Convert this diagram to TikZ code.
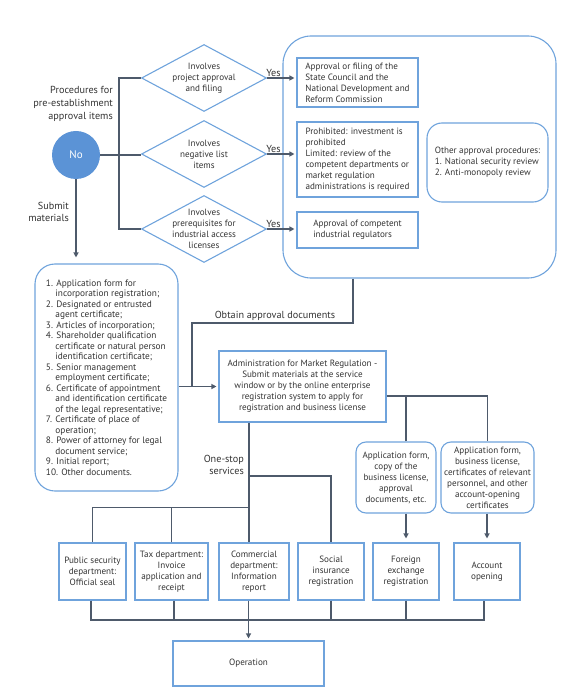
\documentclass[tikz,border=0pt]{standalone}
\usepackage{fontspec}
\setmainfont{PT Sans}
\usetikzlibrary{shapes.geometric,arrows.meta,positioning}

\definecolor{lineC}{HTML}{4E5A6B}
\definecolor{boxC}{HTML}{6FA3DC}
\definecolor{circC}{HTML}{5B93D6}
\definecolor{txtC}{HTML}{333333}
\newcommand{\fs}{\fontsize{9.1}{11}\selectfont}
\newcommand{\fl}{\fontsize{10.2}{12.6}\selectfont}
\newcommand{\ind}{\hphantom{1.\ }}

\begin{document}
\begin{tikzpicture}[x=1pt, y=-1pt,
        line/.style={draw=lineC, line width=1.2pt},
        arr/.style={line, -{Triangle[length=5pt,width=5pt]}, shorten >=2pt},
        box/.style={draw=boxC, line width=1.1pt, inner sep=1pt, align=center, font=\fs, text=txtC},
        rbox/.style={box, rounded corners=10pt},
        dia/.style={diamond, draw=boxC, line width=1.1pt, minimum width=125pt, minimum height=67pt, inner sep=0pt},
        lbl/.style={font=\fl, text=txtC, inner sep=1pt}
    ]
    \useasboundingbox (0,0) rectangle (586,700);

    % Gruppo approvazioni
    \node[box, rounded corners=28pt, minimum width=273pt, minimum height=242pt] (grp) at (419.5,157) {};
    \node[box, align=left, minimum width=121pt, minimum height=49pt] (b1) at (357.5,82.5)
        {Approval or filing of the\\State Council and the\\National Development and\\Reform Commission};
    \node[box, align=left, minimum width=121pt, minimum height=75pt] (b2) at (357.5,159.5)
        {Prohibited: investment is\\prohibited\\Limited: review of the\\competent departments or\\market regulation\\administrations is required};
    \node[box, align=left, minimum width=121pt, minimum height=36pt] (b3) at (357.5,230)
        {Approval of competent\\industrial regulators};
    \node[box, rounded corners=15pt, align=left, minimum width=121pt, minimum height=79pt] (oth) at (487.5,162.5)
        {Other approval procedures:\\1. National security review\\2. Anti-monopoly review};

    % Decisioni
    \node[circle, fill=circC, minimum size=48pt, inner sep=0pt, text=white, font=\fontsize{11}{13}\selectfont] (no) at (76,155) {No};
    \node[dia] (d1) at (204,78) {};
    \node[dia] (d2) at (204,154) {};
    \node[dia] (d3) at (204,229) {};
    \node[box, draw=none, align=center] (d1t) at (d1) {Involves\\project approval\\and filing};
    \node[box, draw=none, align=center] (d2t) at (d2) {Involves\\negative list\\items};
    \node[box, draw=none, align=center] (d3t) at (d3) {Involves\\prerequisites for\\industrial access\\licenses};
    \node[lbl, align=right, anchor=east] (pre) at (114,104) {Procedures for\\pre-establishment\\approval items};
    \node[lbl, align=right, anchor=east] (sub) at (70,212) {Submit\\materials};

    \coordinate (br) at (119,0);
    \draw[line] (no.east) -- (no.east -| d2.west);
    \draw[line] (d1.west) -- (d1.west -| br) -- (d3.west -| br) -- (d3.west);
    \draw[arr] (d1.east) -- node[lbl, above, pos=0.22] {Yes} (d1.east -| b1.west);
    \draw[arr] (d2.east) -- node[lbl, above, pos=0.22] {Yes} (d2.east -| b2.west);
    \draw[arr] (d3.east) -- node[lbl, above, pos=0.22] {Yes} (d3.east -| b3.west);

    % Materiali
    \node[box, rounded corners=20pt, align=left, font=\fontsize{9.3}{10.5}\selectfont, minimum width=143pt, minimum height=227pt] (mat) at (106.5,377.5)
        {1. Application form for\\\ind incorporation registration;\\
         2. Designated or entrusted\\\ind agent certificate;\\
         3. Articles of incorporation;\\
         4. Shareholder qualification\\\ind certificate or natural person\\\ind identification certificate;\\
         5. Senior management\\\ind employment certificate;\\
         6. Certificate of appointment\\\ind and identification certificate\\\ind of the legal representative;\\
         7. Certificate of place of\\\ind operation;\\
         8. Power of attorney for legal\\\ind document service;\\
         9. Initial report;\\
         10. Other documents.};
    \draw[arr, shorten >=6pt] (no.south) -- (no.south |- mat.north);

    % Registrazione
    \node[box, minimum width=167pt, minimum height=71pt] (adm) at (302.5,386.5)
        {Administration for Market Regulation -\\Submit materials at the service\\window or by the online enterprise\\registration system to apply for\\registration and business license};
    \coordinate (obt) at (192,323);
    \draw[arr] (adm.west -| mat.east) -- (adm.west);
    \draw[line] ([xshift=-66.5pt]grp.south) |- (obt) -- (obt |- adm.west);
    \node[lbl, above] (obtl) at (275,322) {Obtain approval documents};

    \node[rbox, minimum width=80pt, minimum height=71pt] (fd) at (396,477.5)
        {Application form,\\copy of the\\business license,\\approval\\documents, etc.};
    \node[rbox, minimum width=93pt, minimum height=71pt] (ad) at (487.5,477.5)
        {Application form,\\business license,\\certificates of relevant\\personnel, and other\\account-opening\\certificates};

    % Sportello unico
    \node[box, minimum width=67pt, minimum height=57pt] (pa) at (92.5,571.5) {Public security\\department:\\Official seal};
    \node[box, minimum width=73pt, minimum height=57pt] (pb) at (171.5,571.5) {Tax department:\\Invoice\\application and\\receipt};
    \node[box, minimum width=70pt, minimum height=57pt] (pc) at (254,571.5) {Commercial\\department:\\Information\\report};
    \node[box, minimum width=66pt, minimum height=57pt] (pd) at (331,571.5) {Social\\insurance\\registration};
    \node[box, minimum width=66pt, minimum height=57pt] (pe) at (406,571.5) {Foreign\\exchange\\registration};
    \node[box, minimum width=66pt, minimum height=57pt] (pf) at (487,571.5) {Account\\opening};
    \node[box, minimum width=151pt, minimum height=45pt] (ope) at (248.5,663.5) {Operation};
    \node[lbl, align=right, anchor=east] (one) at (245,465) {One-stop\\services};

    \coordinate (os) at ([xshift=-53.5pt]adm.south);
    \coordinate (tap1) at (249,476);
    \coordinate (tap2) at (249,507.5);
    \draw[line] (os) -- (os |- pc.north);
    \draw[line] (tap1) -| (pd.north);
    \draw[line] (tap2) -| (pa.north);
    \draw[line] (pb.north) -- (pb.north |- tap2);
    \draw[line] ([yshift=-9.5pt]adm.east) -| (ad.north);
    \draw[line] (fd.north -| pe.north) |- ([yshift=-9.5pt]adm.east);
    \draw[arr, shorten >=4pt] (fd.south -| pe.north) -- (pe.north);
    \draw[arr, shorten >=4pt] (ad.south -| pf.north) -- (pf.north);

    % Raccolta finale
    \coordinate (col) at (0,620);
    \draw[line] ([xshift=-1.5pt]pa.south) -- ([xshift=-1.5pt]pa.south |- col) -- ([xshift=-3pt]pf.south |- col) -- ([xshift=-3pt]pf.south);
    \draw[line] ([xshift=2.5pt]pb.south) -- ([xshift=2.5pt]pb.south |- col);
    \draw[line] (pc.south -| ope.north) -- (ope.north |- col);
    \draw[line] (pd.south) -- (pd.south |- col);
    \draw[line] (pe.south) -- (pe.south |- col);
    \draw[arr] (ope.north |- col) -- (ope.north);
\end{tikzpicture}
\end{document}
